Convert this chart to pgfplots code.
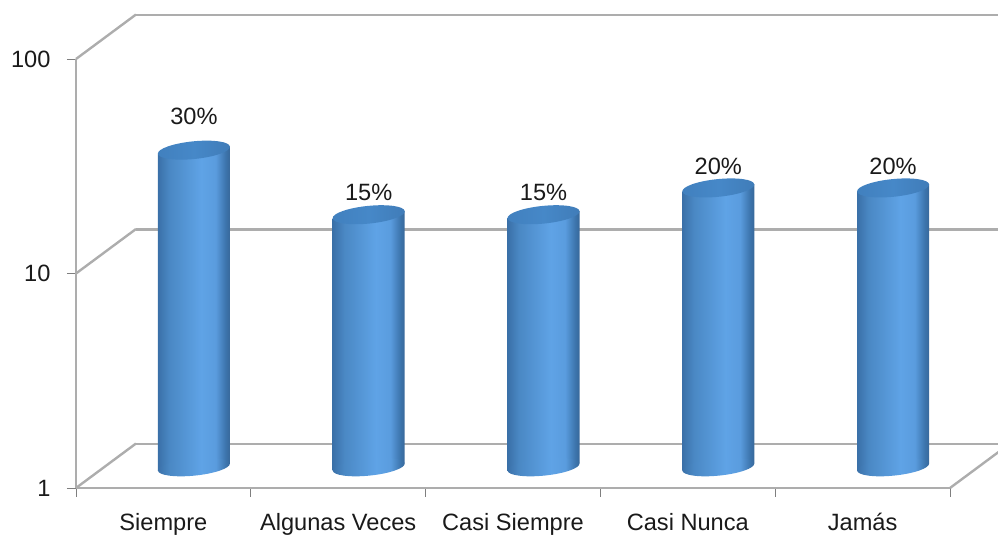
\documentclass[border=0pt]{standalone}
\usepackage{pgfplots}
\pgfplotsset{compat=1.18}
\usepackage{fontspec}
\setmainfont{Liberation Sans}
\definecolor{wall}{HTML}{ADADAD}
\definecolor{tickc}{HTML}{7F7F7F}
\definecolor{lbl}{HTML}{1A1A1A}
\definecolor{cA}{HTML}{3A70A8}
\definecolor{cB}{HTML}{4A88C4}
\definecolor{cC}{HTML}{5FA3E6}
\definecolor{cD}{HTML}{5A9CDE}
\definecolor{cE}{HTML}{3C74AC}
\definecolor{cF}{HTML}{38689A}
\definecolor{tA}{HTML}{3C78B4}
\definecolor{tB}{HTML}{4688C8}
\pgfdeclarehorizontalshading{cyl}{100bp}{
  color(0bp)=(cA);
  color(25bp)=(cA);
  color(33bp)=(cB);
  color(55bp)=(cC);
  color(65bp)=(cD);
  color(72bp)=(cE);
  color(75bp)=(cF);
  color(100bp)=(cF)}
\pgfdeclarehorizontalshading{cyltop}{100bp}{
  color(0bp)=(tA);
  color(50bp)=(tB);
  color(100bp)=(cA)}
\pgfdeclareplotmark{capb}{%
  \pgfpathellipse{\pgfpointorigin}{\pgfqpoint{36pt}{3.6pt}}{\pgfqpoint{-0.9pt}{8.6pt}}%
  \pgfshadepath{cyl}{0}\pgfusepath{discard}}
\pgfdeclareplotmark{capt}{%
  \pgfpathellipse{\pgfpointorigin}{\pgfqpoint{36pt}{3.6pt}}{\pgfqpoint{-0.9pt}{8.8pt}}%
  \pgfshadepath{cyltop}{0}\pgfusepath{discard}}
\pgfplotsset{
  chartframe/.style={
    anchor=south west, scale only axis, width=874pt, height=429pt,
    xmin=-0.5, xmax=4.5, ymin=1, ymax=100, clip=false},
  cylbody/.style={ybar, bar width=72pt, bar shift=0pt, draw=none, shade, shading=cyl,
    yslant=0.1, yshift=#1}}
\begin{document}
\begin{tikzpicture}
\useasboundingbox (0pt,0pt) rectangle (998pt,537pt);
% back wall
\begin{semilogyaxis}[chartframe, at={(136pt,93pt)}, hide axis]
  \addplot[wall, line width=2.6pt, forget plot] coordinates {(-0.5,1) (4.5,1)};
  \addplot[wall, line width=2.6pt, forget plot] coordinates {(-0.5,10) (4.5,10)};
  \addplot[wall, line width=2.6pt, forget plot] coordinates {(-0.5,100) (4.5,100)};
\end{semilogyaxis}
% front axes
\begin{semilogyaxis}[chartframe, at={(76pt,49pt)},
  axis x line=bottom, axis y line=left, axis line style={wall, line width=2.4pt, -},
  xtick={-0.5,0.5,1.5,2.5,3.5,4.5}, x tick label as interval,
  xticklabels={Siempre,Algunas Veces,Casi Siempre,Casi Nunca,Jamás},
  ytick={1,10,100}, yticklabels={1,10,100}, yminorticks=false,
  tick style={tickc, line width=0.9pt},
  major tick length=9pt,
  tick align=outside,
  tick label style={font=\fontsize{23.6}{25}\selectfont, text=lbl},
  x tick label style={anchor=mid, yshift=-31pt},
  y tick label style={xshift=-13pt}]
  \draw[wall, line width=2.4pt] (axis cs:-0.5,100) -- ++(60pt,44.5pt);
  \draw[wall, line width=2.4pt] (axis cs:-0.5,10)  -- ++(60pt,44.5pt);
  \draw[wall, line width=2.4pt] (axis cs:-0.5,1)   -- ++(60pt,44.5pt);
  \draw[wall, line width=2.4pt] (axis cs:4.5,1)    -- ++(60pt,44.5pt);
\end{semilogyaxis}
% cylinders
\begin{semilogyaxis}[chartframe, at={(106.5pt,70pt)}, hide axis]
  % bottom caps
  \addplot[only marks, mark=capb]
    coordinates {(0,1) (1,1) (2,1) (3,1) (4,1)};
  % bodies
  \addplot[cylbody=-8.74pt]  coordinates {(0,30)};
  \addplot[cylbody=-26.22pt] coordinates {(1,15)};
  \addplot[cylbody=-43.7pt]  coordinates {(2,15)};
  \addplot[cylbody=-61.18pt] coordinates {(3,20)};
  \addplot[cylbody=-78.66pt] coordinates {(4,20)};
  % top caps
  \addplot[only marks, mark=capt,
    point meta=explicit symbolic,
    nodes near coords={\pgfplotspointmeta\%},
    every node near coord/.style={anchor=center, font=\fontsize{23.6}{25}\selectfont, text=lbl, yshift=22pt}]
    coordinates {(1,15) [15] (2,15) [15] (3,20) [20] (4,20) [20]};
  \addplot[only marks, mark=capt,
    point meta=explicit symbolic,
    nodes near coords={\pgfplotspointmeta\%},
    every node near coord/.style={anchor=center, font=\fontsize{23.6}{25}\selectfont, text=lbl, yshift=34pt}]
    coordinates {(0,30) [30]};
\end{semilogyaxis}
\end{tikzpicture}
\end{document}
